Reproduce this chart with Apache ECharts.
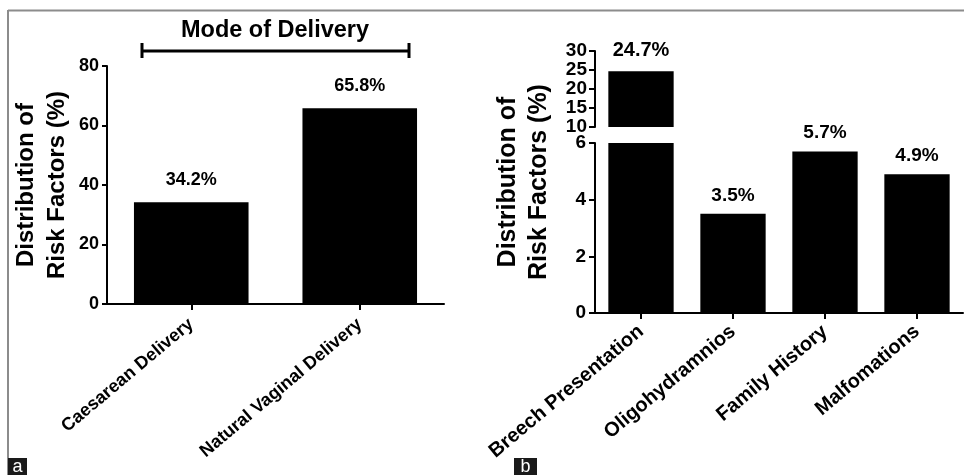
<!DOCTYPE html>
<html>
<head>
<meta charset="utf-8">
<script src="https://cdn.jsdelivr.net/npm/echarts@6/dist/echarts.min.js"></script>
<style>
  html, body { margin: 0; padding: 0; background: #fff; }
  #chart { width: 964px; height: 475px; }
</style>
</head>
<body>
<div id="chart"></div>
<script>
// Panel a: mode of delivery
const deliveryCategories = ['Caesarean Delivery', 'Natural Vaginal Delivery'];
const deliveryValues = [34.2, 65.8];
const deliveryTicks = { min: 0, max: 80, interval: 20 };

// Panel b: risk factors, drawn on a broken axis (0-6 and 10-30)
const riskCategories = ['Breech Presentation', 'Oligohydramnios', 'Family History', 'Malfomations'];
const riskValues = [24.7, 3.5, 5.7, 4.9];
const riskLowerTicks = { min: 0, max: 6, interval: 2 };
const riskUpperTicks = { min: 10, max: 30, interval: 5 };

const yName = 'Distribution of\nRisk Factors (%)';
const groupTitle = 'Mode of Delivery';
const panelLetters = ['a', 'b'];

const FONT = '"Liberation Sans", Arial, Helvetica, sans-serif';
const BLACK = '#000';

const chart = echarts.init(document.getElementById('chart'), null, { renderer: 'canvas' });

function axisLineStyle() {
  return { show: true, lineStyle: { color: BLACK, width: 2 } };
}
function tickLabel(size, margin) {
  return { color: BLACK, fontFamily: FONT, fontWeight: 'bold', fontSize: size, margin: margin };
}
function catLabel(size, margin) {
  return { color: BLACK, fontFamily: FONT, fontWeight: 'bold', fontSize: size, rotate: 40, margin: margin, interval: 0 };
}
function barLabel(size, dist, hideAbove) {
  return {
    show: true, position: 'top', distance: dist,
    color: BLACK, fontFamily: FONT, fontWeight: 'bold', fontSize: size,
    formatter: p => (p.value == null || (hideAbove != null && p.value > hideAbove)) ? '' : p.value.toFixed(1) + '%'
  };
}

const option = {
  animation: false,
  backgroundColor: '#fff',
  grid: [
    { left: 107, right: 520, top: 66, bottom: 171 },          // panel a
    { left: 595, right: 1, top: 143, bottom: 162 },           // panel b, lower segment
    { left: 595, right: 1, top: 51, height: 76 },             // panel b, upper segment
    { left: 595, right: 1, top: 51, bottom: 162 }             // panel b, axis title holder
  ],
  xAxis: [
    {
      gridIndex: 0, type: 'category', data: deliveryCategories,
      axisLine: axisLineStyle(),
      axisTick: { show: true, alignWithLabel: true, length: 6, lineStyle: { color: BLACK, width: 2 } },
      axisLabel: catLabel(18, 18), splitLine: { show: false }
    },
    {
      gridIndex: 1, type: 'category', data: riskCategories,
      axisLine: axisLineStyle(),
      axisTick: { show: true, alignWithLabel: true, length: 6, lineStyle: { color: BLACK, width: 2 } },
      axisLabel: catLabel(20, 16), splitLine: { show: false }
    },
    { gridIndex: 2, type: 'category', data: riskCategories, show: false },
    { gridIndex: 3, type: 'category', data: riskCategories, show: false }
  ],
  yAxis: [
    {
      gridIndex: 0, type: 'value',
      min: deliveryTicks.min, max: deliveryTicks.max, interval: deliveryTicks.interval,
      axisLine: axisLineStyle(),
      axisTick: { show: true, length: 5, lineStyle: { color: BLACK, width: 2 } },
      axisLabel: tickLabel(18, 8), splitLine: { show: false },
      name: yName, nameLocation: 'middle', nameGap: 34,
      nameTextStyle: { color: BLACK, fontFamily: FONT, fontWeight: 'bold', fontSize: 24, lineHeight: 31 }
    },
    {
      gridIndex: 1, type: 'value',
      min: riskLowerTicks.min, max: riskLowerTicks.max, interval: riskLowerTicks.interval,
      axisLine: axisLineStyle(),
      axisTick: { show: true, length: 6, lineStyle: { color: BLACK, width: 2 } },
      axisLabel: tickLabel(19, 9), splitLine: { show: false }
    },
    {
      gridIndex: 2, type: 'value',
      min: riskUpperTicks.min, max: riskUpperTicks.max, interval: riskUpperTicks.interval,
      axisLine: axisLineStyle(),
      axisTick: { show: true, length: 6, lineStyle: { color: BLACK, width: 2 } },
      axisLabel: tickLabel(19, 8), splitLine: { show: false }
    },
    {
      gridIndex: 3, type: 'value', min: 0, max: 1,
      axisLine: { show: false }, axisTick: { show: false }, axisLabel: { show: false }, splitLine: { show: false },
      name: yName, nameLocation: 'middle', nameGap: 40,
      nameTextStyle: { color: BLACK, fontFamily: FONT, fontWeight: 'bold', fontSize: 25, lineHeight: 31 }
    }
  ],
  series: [
    {
      type: 'bar', xAxisIndex: 0, yAxisIndex: 0, data: deliveryValues,
      barWidth: '68%', itemStyle: { color: BLACK }, clip: true,
      label: barLabel(18, 13)
    },
    {
      type: 'bar', xAxisIndex: 1, yAxisIndex: 1, data: riskValues,
      barWidth: '71%', itemStyle: { color: BLACK }, clip: true,
      label: barLabel(19, 9, riskLowerTicks.max)
    },
    {
      type: 'bar', xAxisIndex: 2, yAxisIndex: 2,
      data: riskValues.map(v => (v > riskUpperTicks.min ? v : null)),
      barWidth: '71%', itemStyle: { color: BLACK }, clip: true,
      label: barLabel(20, 11)
    }
  ],
  graphic: [
    // frame lines
    { type: 'line', shape: { x1: 8, y1: 10.5, x2: 964, y2: 10.5 }, style: { stroke: '#8c8c8c', lineWidth: 2 } },
    { type: 'line', shape: { x1: 8, y1: 10, x2: 8, y2: 475 }, style: { stroke: '#8c8c8c', lineWidth: 2 } },
    // group bracket over panel a
    {
      type: 'text', x: 275, y: 31,
      style: { text: groupTitle, font: 'bold 23.5px ' + FONT, fill: BLACK, align: 'center', verticalAlign: 'middle' }
    },
    { type: 'line', shape: { x1: 142, y1: 51, x2: 409, y2: 51 }, style: { stroke: BLACK, lineWidth: 3 } },
    { type: 'line', shape: { x1: 142, y1: 43, x2: 142, y2: 58 }, style: { stroke: BLACK, lineWidth: 3 } },
    { type: 'line', shape: { x1: 409, y1: 43, x2: 409, y2: 58 }, style: { stroke: BLACK, lineWidth: 3 } },
    // panel letters
    { type: 'rect', shape: { x: 8, y: 458, width: 19, height: 17 }, style: { fill: '#1a1a1a' } },
    {
      type: 'text', x: 17.5, y: 467,
      style: { text: panelLetters[0], font: '18px ' + FONT, fill: '#fff', align: 'center', verticalAlign: 'middle' }
    },
    { type: 'rect', shape: { x: 514, y: 458, width: 23, height: 17 }, style: { fill: '#1a1a1a' } },
    {
      type: 'text', x: 525.5, y: 467,
      style: { text: panelLetters[1], font: '18px ' + FONT, fill: '#fff', align: 'center', verticalAlign: 'middle' }
    }
  ]
};

chart.setOption(option);
</script>
</body>
</html>
